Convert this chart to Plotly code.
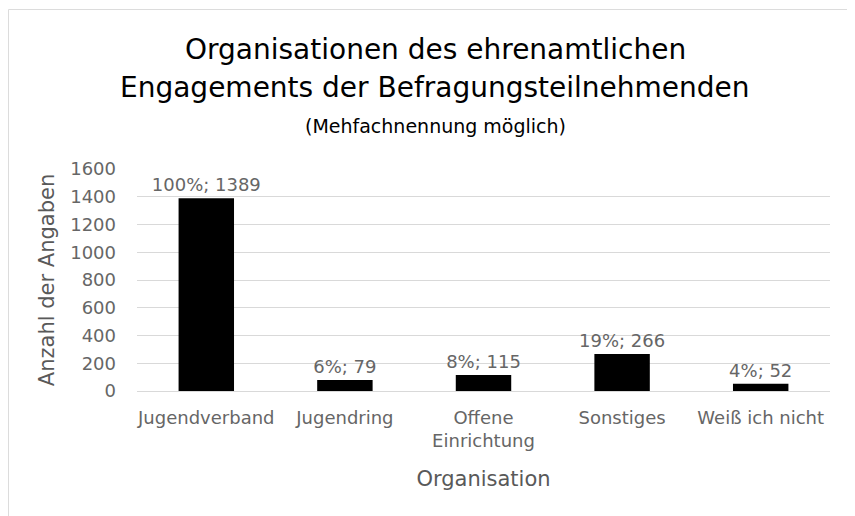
import plotly.graph_objects as go

categories = ["Jugendverband", "Jugendring", "Offene<br>Einrichtung", "Sonstiges", "Weiß ich nicht"]
counts = [1389, 79, 115, 266, 52]
percents = [100, 6, 8, 19, 4]
y_ticks = [0, 200, 400, 600, 800, 1000, 1200, 1400, 1600]

labels = [f"{p}%; {c}" for p, c in zip(percents, counts)]

GRAY = "#595959"
LGRAY = "#666666"
FONT = "DejaVu Sans"

fig = go.Figure(go.Bar(
    x=categories, y=counts, text=labels, textposition="outside",
    marker=dict(color="black", line=dict(width=0)),
    textfont=dict(family=FONT, size=18, color=LGRAY),
    constraintext="none",
    cliponaxis=False,
))

OFF = 8  # page body offset in the screenshot
L, R, T, B = 137 - OFF, 830 - OFF, 169 - OFF, 391 - OFF
W, H = R - L, B - T


def px(xfig):
    return (xfig - L) / W


def py(yfig):
    return (B - yfig) / H


CX = px(435 - OFF)

fig.update_layout(
    width=855, height=516,
    margin=dict(l=L, r=855 - R, t=T, b=516 - B, autoexpand=False),
    paper_bgcolor="white", plot_bgcolor="white",
    bargap=0.6, showlegend=False,
    annotations=[
        dict(text="Organisationen des ehrenamtlichen", xref="paper", yref="paper",
             x=CX, y=py(49 - OFF), xanchor="center", yanchor="middle", showarrow=False,
             font=dict(family=FONT, size=28, color="black")),
        dict(text="Engagements der Befragungsteilnehmenden", xref="paper", yref="paper",
             x=CX, y=py(88 - OFF), xanchor="center", yanchor="middle", showarrow=False,
             font=dict(family=FONT, size=28, color="black")),
        dict(text="(Mehfachnennung möglich)", xref="paper", yref="paper",
             x=CX, y=py(126 - OFF), xanchor="center", yanchor="middle", showarrow=False,
             font=dict(family=FONT, size=19, color="black")),
    ],
    xaxis=dict(
        showgrid=False, showline=False, ticks="", automargin=False,
        ticklabelstandoff=14,
        tickfont=dict(family=FONT, size=18, color=LGRAY),
        title=dict(text="Organisation", standoff=20,
                   font=dict(family=FONT, size=21, color=GRAY)),
    ),
    yaxis=dict(
        range=[0, 1600], tickvals=y_ticks, automargin=False,
        showgrid=True, gridcolor="#d9d9d9", gridwidth=1,
        zeroline=True, zerolinecolor="#d9d9d9", zerolinewidth=1,
        showline=False, ticks="", ticklabelstandoff=20,
        tickfont=dict(family=FONT, size=18, color=LGRAY),
        title=dict(text="Anzahl der Angaben", standoff=9,
                   font=dict(family=FONT, size=21, color=GRAY)),
    ),
    shapes=[dict(
        type="rect", xref="paper", yref="paper",
        x0=px(0.5), x1=px(900),
        y0=py(560), y1=py(9 - OFF + 0.5),
        line=dict(color="#dcdcdc", width=1), fillcolor="rgba(0,0,0,0)",
        layer="below",
    )],
)

fig.write_html("out.html")
